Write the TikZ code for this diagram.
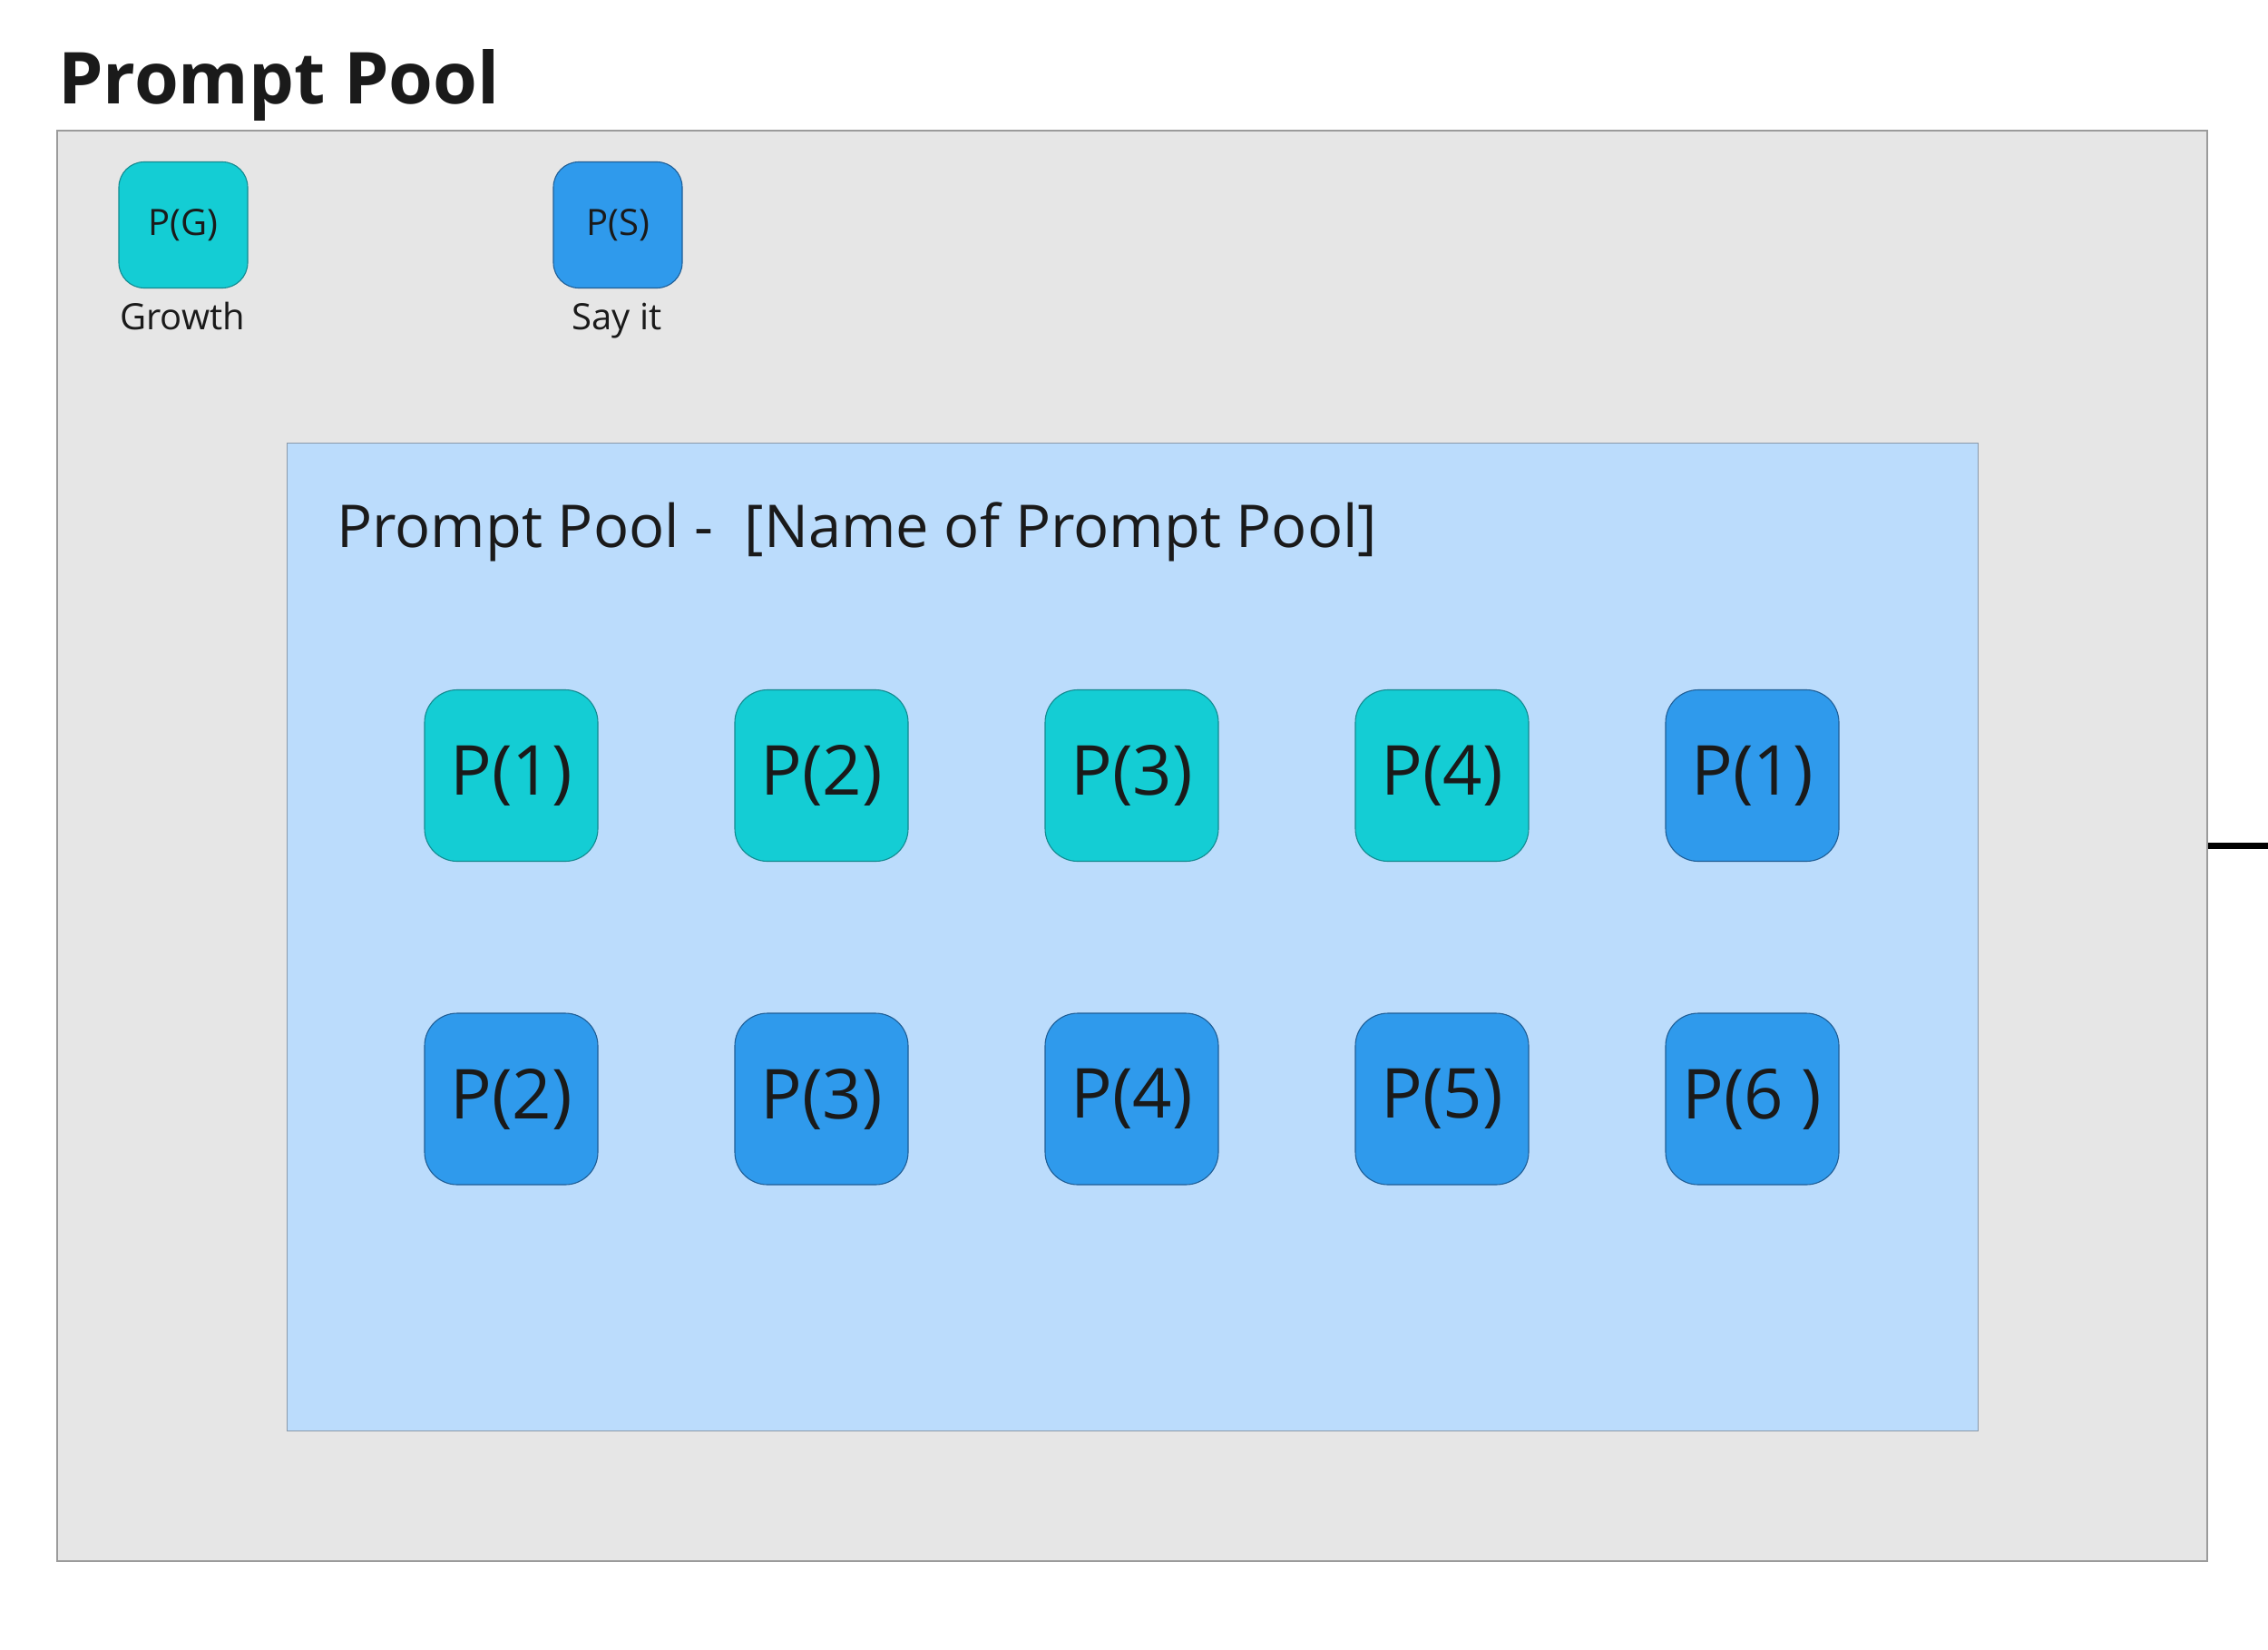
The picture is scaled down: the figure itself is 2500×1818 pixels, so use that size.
\documentclass[tikz,border=0pt]{standalone}
\usepackage{fontspec}
\setmainfont{Open Sans}
\definecolor{outerfill}{HTML}{E6E6E6}
\definecolor{outerline}{HTML}{9B9B9B}
\definecolor{innerfill}{HTML}{BBDCFC}
\definecolor{innerline}{HTML}{8A9AAA}
\definecolor{cyanfill}{HTML}{14CDD4}
\definecolor{cyanline}{HTML}{138A90}
\definecolor{bluefill}{HTML}{2F9AEC}
\definecolor{blueline}{HTML}{1F5E96}
\definecolor{ink}{HTML}{1A1A1A}
\tikzset{
  frame/.style={draw=outerline, line width=1.6pt, fill=outerfill, anchor=north west, inner sep=0pt},
  poolframe/.style={draw=innerline, line width=1.2pt, fill=innerfill, anchor=north west, inner sep=0pt},
  smallbox/.style={draw, line width=1.1pt, rounded corners=28pt, minimum width=142pt, minimum height=139pt, inner sep=0pt, text=ink, font=\fontsize{40}{48}\selectfont},
  bigbox/.style={draw, line width=1.1pt, rounded corners=36pt, minimum width=191pt, minimum height=189pt, inner sep=0pt, text=ink, font=\fontsize{76}{90}\selectfont},
  cyanbox/.style={fill=cyanfill, draw=cyanline},
  bluebox/.style={fill=bluefill, draw=blueline},
  caption/.style={anchor=base, text=ink, inner sep=0pt, font=\fontsize{40}{48}\selectfont}
}
\begin{document}
\begin{tikzpicture}[x=1pt,y=-1pt]
\useasboundingbox (0,0) rectangle (2500,1818);
\fill[white] (0,0) rectangle (2500,1818);

\node[anchor=base west, inner sep=0pt, text=ink, font=\fontsize{79}{92}\selectfont\bfseries] (title) at (64,114) {Prompt Pool};

\node[frame, minimum width=2370pt, minimum height=1577pt] (outer) at (62,143) {};

\coordinate (rend) at (2500,932);
\draw[line width=7pt, black] (outer.east |- rend) -- (rend);

\node[smallbox, cyanbox] (pg) at (202,248) {P(G)};
\node[caption] (pglab) at (201,363) {Growth};
\node[smallbox, bluebox] (ps) at (681,248) {P(S)};
\node[caption] (pslab) at (680,363) {Say it};

\node[poolframe, minimum width=1864pt, minimum height=1089pt] (pool) at (316,488) {};
\node[anchor=base west, inner sep=0pt, text=ink, font=\fontsize{65}{78}\selectfont] (pooltitle) at (371,603) {Prompt Pool -\ \ [Name of Prompt Pool]};

\node[bigbox, cyanbox] (a1) at (563.5,855) {P(1)};
\node[bigbox, cyanbox] (a2) at (905.5,855) {P(2)};
\node[bigbox, cyanbox] (a3) at (1247.5,855) {P(3)};
\node[bigbox, cyanbox] (a4) at (1589.5,855) {P(4)};
\node[bigbox, bluebox] (b1) at (1931.5,855) {P(1)};

\node[bigbox, bluebox] (b2) at (563.5,1211.5) {P(2)};
\node[bigbox, bluebox] (b3) at (905.5,1211.5) {P(3)};
\node[bigbox, bluebox] (b4) at (1247.5,1211.5) {P(4)};
\node[bigbox, bluebox] (b5) at (1589.5,1211.5) {P(5)};
\node[bigbox, bluebox] (b6) at (1931.5,1211.5) {P(6 )};
\end{tikzpicture}
\end{document}
